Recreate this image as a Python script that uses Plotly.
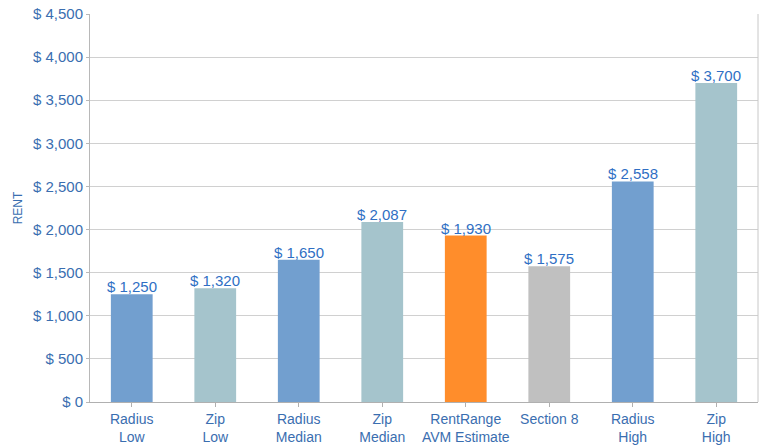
import plotly.graph_objects as go

categories = ["Radius<br>Low", "Zip<br>Low", "Radius<br>Median", "Zip<br>Median",
              "RentRange<br>AVM Estimate", "Section 8", "Radius<br>High", "Zip<br>High"]
rents = [1250, 1320, 1650, 2087, 1930, 1575, 2558, 3700]
colors = ["#729fcf", "#a5c4cc", "#729fcf", "#a5c4cc", "#ff8d2b", "#c0c0c0", "#729fcf", "#a5c4cc"]
y_ticks = [0, 500, 1000, 1500, 2000, 2500, 3000, 3500, 4000, 4500]
y_tick_labels = [f"$ {v:,}" for v in y_ticks]
data_labels = [f"$ {v:,}" for v in rents]

blue = "#3a6eb0"
fig = go.Figure(go.Bar(
    x=categories, y=rents, marker=dict(color=colors, line=dict(width=0)),
    width=0.5, hoverinfo="skip",
))
for c, v, t in zip(categories, rents, data_labels):
    fig.add_annotation(x=c, y=v, text=t, showarrow=False, yanchor="bottom",
                       yshift=-3, font=dict(color="#2f6fc4", size=15,
                                            family="Liberation Sans"))
fig.update_layout(
    width=762, height=446, margin=dict(l=90, r=4, t=14, b=44),
    plot_bgcolor="white", paper_bgcolor="white",
    font=dict(family="Liberation Sans", color=blue, size=12),
    showlegend=False, bargap=0.5,
)
fig.update_yaxes(
    range=[0, 4500], tickvals=y_ticks, ticktext=y_tick_labels,
    showgrid=True, gridcolor="#d0d0d0", gridwidth=1,
    showline=True, linecolor="#b8b8b8", mirror=False,
    ticks="outside", ticklen=3, tickcolor="#b8b8b8",
    tickfont=dict(size=15, color=blue), zeroline=False, automargin=False,
    title=dict(text="RENT", font=dict(size=12, color=blue), standoff=7),
)
fig.update_xaxes(
    showline=True, linecolor="#b0b0b0", mirror=False,
    ticks="outside", ticklen=4, tickcolor="#b0b0b0",
    tickfont=dict(size=14, color=blue), automargin=False,
)
fig.add_shape(type="line", xref="paper", yref="paper", x0=1, x1=1, y0=0, y1=1,
              line=dict(color="#c8c8c8", width=1))
fig.write_html("out.html", config={"displayModeBar": False},
               post_script="document.body.style.margin='0';")
